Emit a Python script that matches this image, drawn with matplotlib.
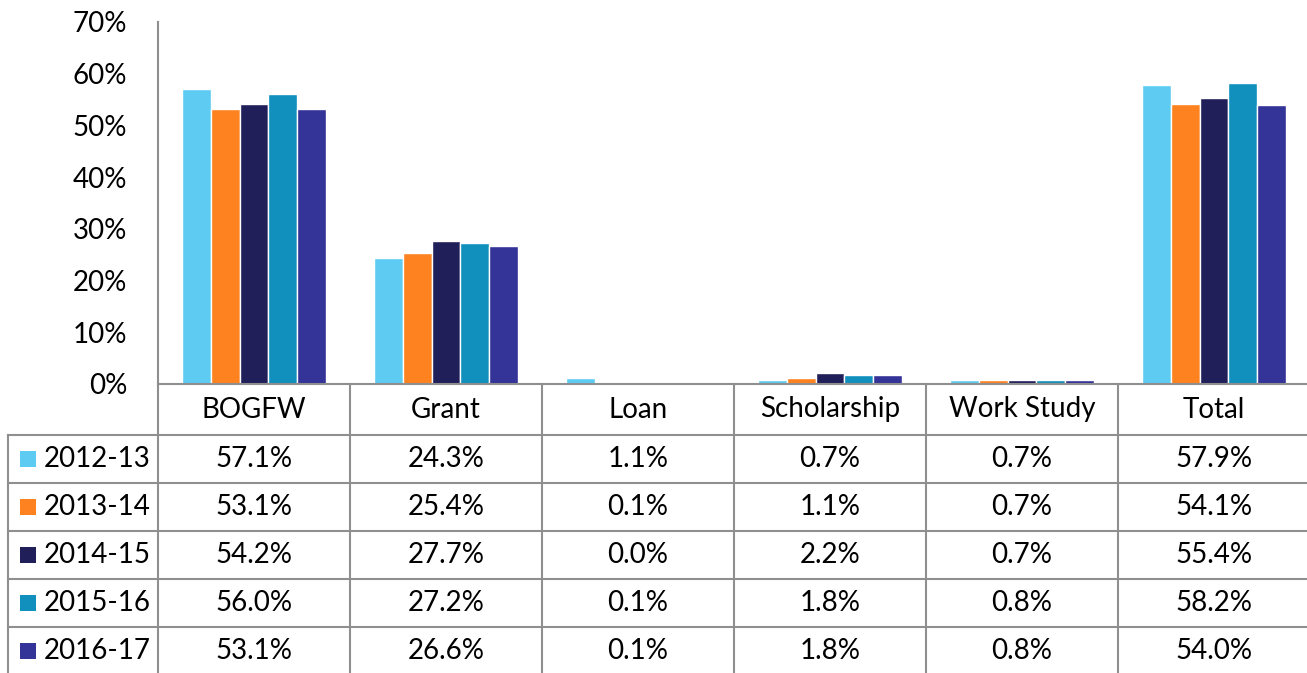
import matplotlib
matplotlib.use("Agg")
import matplotlib.pyplot as plt
import numpy as np
from matplotlib.transforms import Affine2D, blended_transform_factory
from matplotlib.patches import Rectangle
from matplotlib.lines import Line2D

categories = ["BOGFW", "Grant", "Loan", "Scholarship", "Work Study", "Total"]
years = ["2012-13", "2013-14", "2014-15", "2015-16", "2016-17"]
v_2012_13 = [57.1, 24.3, 1.1, 0.7, 0.7, 57.9]
v_2013_14 = [53.1, 25.4, 0.1, 1.1, 0.7, 54.1]
v_2014_15 = [54.2, 27.7, 0.0, 2.2, 0.7, 55.4]
v_2015_16 = [56.0, 27.2, 0.1, 1.8, 0.8, 58.2]
v_2016_17 = [53.1, 26.6, 0.1, 1.8, 0.8, 54.0]
series = [v_2012_13, v_2013_14, v_2014_15, v_2015_16, v_2016_17]
colors = ["#5ECBF3", "#FF8221", "#201F5A", "#118FBD", "#343397"]
yticks = [0, 10, 20, 30, 40, 50, 60, 70]

plt.rcParams["font.family"] = ["Lato", "DejaVu Sans"]
FS = 20
GRID = "#8f8f8f"

W, H = 1307, 673
fig = plt.figure(figsize=(W / 100, H / 100), dpi=100)
ax_l, ax_r, ax_t, ax_b = 158, 1310, 22, 384
ax = fig.add_axes([ax_l / W, 1 - ax_b / H, (ax_r - ax_l) / W, (ax_b - ax_t) / H])

x = np.arange(len(categories))
bw = 0.151
for j, (vals, c) in enumerate(zip(series, colors)):
    ax.bar(x + (j - 2) * bw, vals, width=bw, color=c, edgecolor="white", linewidth=1.0, zorder=2)

ax.set_xlim(-0.5, len(categories) - 0.5)
ax.set_ylim(0, 70)
ax.set_yticks(yticks)
ax.set_yticklabels([f"{t}%" for t in yticks], fontsize=FS)
ax.tick_params(axis="y", length=0, pad=22)
ax.set_xticks([])
for s in ["top", "right"]:
    ax.spines[s].set_visible(False)
for s in ["left", "bottom"]:
    ax.spines[s].set_color(GRID)
    ax.spines[s].set_linewidth(1.5)

# pixel (y-down) transform
pix = Affine2D().scale(1 / W, -1 / H).translate(0, 1) + fig.transFigure
dx_pix = blended_transform_factory(ax.transData, pix)

header_top = 384
header_bot = 435
row_h = 48
rows_y = [header_bot + i * row_h for i in range(len(years) + 1)]
bottom = rows_y[-1]

# vertical column lines
for i in range(len(categories) + 1):
    fig.add_artist(Line2D([i - 0.5, i - 0.5], [header_top, bottom], transform=dx_pix,
                          color=GRID, lw=1.5, clip_on=False))
# horizontal lines across the data columns
for yy in rows_y:
    fig.add_artist(Line2D([-0.5, len(categories) - 0.5], [yy, yy], transform=dx_pix,
                          color=GRID, lw=1.5, clip_on=False))
    fig.add_artist(Line2D([8, ax_l], [yy, yy], transform=pix, color=GRID, lw=1.5, clip_on=False))
# left border of label column
fig.add_artist(Line2D([8, 8], [header_bot, bottom], transform=pix, color=GRID, lw=1.5, clip_on=False))

# header labels
for i, cat in enumerate(categories):
    fig.text(i, (header_top + header_bot) / 2, cat, transform=dx_pix, ha="center", va="center",
             fontsize=FS, color="black")

# rows
for r, (yr, vals, c) in enumerate(zip(years, series, colors)):
    yc = rows_y[r] + row_h / 2
    fig.add_artist(Rectangle((20, yc - 8), 16, 16, transform=pix, facecolor=c, edgecolor="none"))
    fig.text(44, yc, yr, transform=pix, ha="left", va="center", fontsize=FS, color="black")
    for i, v in enumerate(vals):
        fig.text(i, yc, f"{v:.1f}%", transform=dx_pix, ha="center", va="center",
                 fontsize=FS, color="black")

fig.savefig("out.png", dpi=100)
